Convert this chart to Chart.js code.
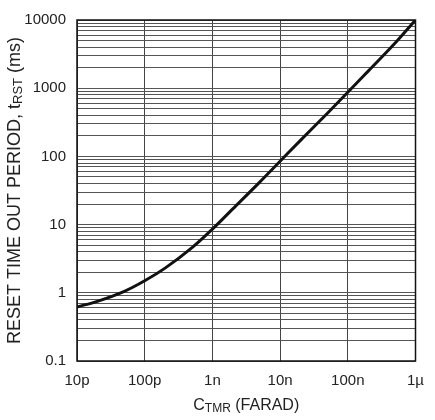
<!DOCTYPE html>
<html>
<head>
<meta charset="utf-8">
<script src="https://cdn.jsdelivr.net/npm/chart.js@4"></script>
<style>
  html, body { margin: 0; padding: 0; background: #fff; }
  #wrap { width: 435px; height: 420px; position: relative; }
</style>
</head>
<body>
<div id="wrap"><canvas id="c" width="435" height="420"></canvas></div>
<script>
// capacitance (F) vs reset timeout (ms)
const capacitance = [1e-11, 2e-11, 5e-11, 1e-10, 2e-10, 5e-10, 1e-9, 2e-9, 5e-9, 1e-8, 2e-8, 5e-8, 1e-7, 2e-7, 5e-7, 1e-6];
const timeoutMs = [0.62, 0.75, 1.05, 1.5, 2.3, 4.6, 8.6, 17, 42, 85, 172, 430, 870, 1780, 4600, 10000];

const xTickValues = [1e-11, 1e-10, 1e-9, 1e-8, 1e-7, 1e-6];
const xTickLabels = ["10p", "100p", "1n", "10n", "100n", "1\u00b5"];
const yTickValues = [0.1, 1, 10, 100, 1000, 10000];
const yTickLabels = ["0.1", "1", "10", "100", "1000", "10000"];

const FONT = "'Liberation Sans', Arial, Helvetica, sans-serif";

// minor grid for y: 1..9 in each decade
const yGrid = [];
for (let d = -1; d < 4; d++) {
  for (let m = 1; m < 10; m++) yGrid.push(+(m * Math.pow(10, d)).toPrecision(3));
}
yGrid.push(10000);

// axis titles with subscripts
function drawSub(ctx, parts, x, y) {
  // parts: [[text, size, dy], ...], drawn left to right from x
  let cx = x;
  for (const [t, size, dy] of parts) {
    ctx.font = size + "px " + FONT;
    ctx.fillText(t, cx, y + dy);
    cx += ctx.measureText(t).width;
  }
  return cx - x;
}
function measureSub(ctx, parts) {
  let w = 0;
  for (const [t, size] of parts) {
    ctx.font = size + "px " + FONT;
    w += ctx.measureText(t).width;
  }
  return w;
}

const titlePlugin = {
  id: "axisTitles",
  afterDraw(chart) {
    const ctx = chart.ctx;
    const a = chart.chartArea;
    ctx.save();
    ctx.fillStyle = "#222";
    ctx.textBaseline = "alphabetic";
    ctx.textAlign = "left";

    const xParts = [["C", 16, 0], ["TMR", 12, 2], [" (FARAD)", 16, 0]];
    const xw = measureSub(ctx, xParts);
    drawSub(ctx, xParts, (a.left + a.right) / 2 - xw / 2, 410);

    const yParts = [["RESET TIME OUT PERIOD, t", 18, 0], ["RST", 13, 2], [" (ms)", 18, 0]];
    const yw = measureSub(ctx, yParts);
    ctx.translate(20, (a.top + a.bottom) / 2);
    ctx.rotate(-Math.PI / 2);
    drawSub(ctx, yParts, -yw / 2, 0);
    ctx.restore();

    // frame
    ctx.save();
    ctx.strokeStyle = "#111";
    ctx.lineWidth = 1.5;
    ctx.strokeRect(a.left, a.top, a.right - a.left, a.bottom - a.top);
    ctx.restore();
  }
};

new Chart(document.getElementById("c"), {
  type: "line",
  data: {
    datasets: [{
      data: capacitance.map((c, i) => ({ x: c, y: timeoutMs[i] })),
      borderColor: "#111",
      borderWidth: 3,
      pointRadius: 0,
      cubicInterpolationMode: "monotone",
      fill: false
    }]
  },
  options: {
    responsive: false,
    animation: false,
    devicePixelRatio: 1,
    layout: { padding: { left: 0, right: 18, top: 19, bottom: 0 } },
    plugins: { legend: { display: false }, tooltip: { enabled: false } },
    scales: {
      x: {
        type: "logarithmic",
        min: 1e-11,
        max: 1e-6,
        afterBuildTicks: (s) => { s.ticks = xTickValues.map(v => ({ value: v })); },
        afterFit: (s) => { s.height = 59; },
        ticks: {
          autoSkip: false,
          maxRotation: 0,
          padding: 11,
          color: "#222",
          font: { family: FONT, size: 15 },
          callback: (v) => {
            const i = xTickValues.findIndex(t => Math.abs(Math.log10(t) - Math.log10(v)) < 1e-6);
            return i >= 0 ? xTickLabels[i] : "";
          }
        },
        grid: { color: "#444", lineWidth: 1, drawTicks: false },
        border: { display: false }
      },
      y: {
        type: "logarithmic",
        min: 0.1,
        max: 10000,
        afterBuildTicks: (s) => { s.ticks = yGrid.map(v => ({ value: v })); },
        afterFit: (s) => { s.width = 77; },
        ticks: {
          autoSkip: false,
          padding: 11,
          color: "#222",
          font: { family: FONT, size: 15 },
          callback: (v) => {
            const i = yTickValues.findIndex(t => Math.abs(Math.log10(t) - Math.log10(v)) < 1e-6);
            return i >= 0 ? yTickLabels[i] : "";
          }
        },
        grid: { color: "#555", lineWidth: 1, drawTicks: false },
        border: { display: false }
      }
    }
  },
  plugins: [titlePlugin]
});
</script>
</body>
</html>
